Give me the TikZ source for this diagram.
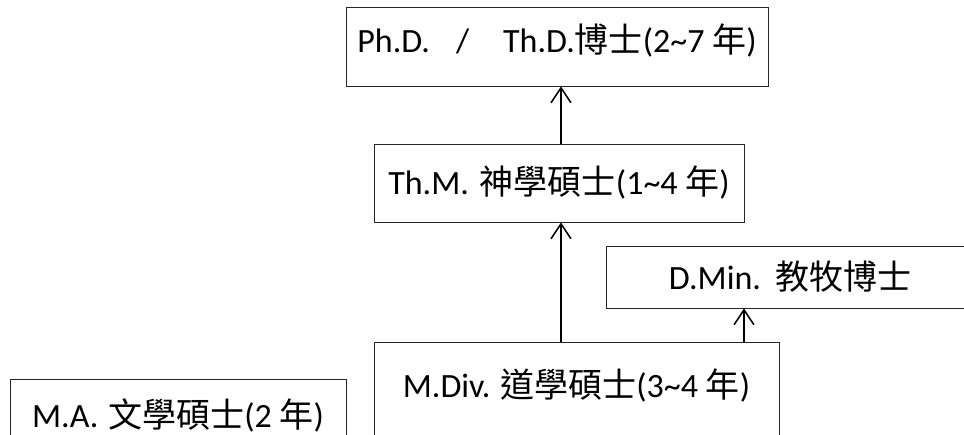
\documentclass[tikz,border=0pt]{standalone}
\usepackage{fontspec}
\setmainfont{Carlito}
\newfontfamily\cjk{Noto Sans CJK TC}
\usetikzlibrary{arrows.meta}
\newcommand{\tld}{\symbol{"7E}}
\begin{document}
\begin{tikzpicture}[x=1pt,y=-1pt,
  box/.style={draw=black!85, line width=0.9pt, inner sep=0pt, text depth=0pt,
    font=\fontsize{34}{40}\selectfont},
  arr/.style={line width=1.5pt, -{Straight Barb[length=15pt,width=20pt,line width=1.5pt]}}]
\useasboundingbox (0,0) rectangle (964,435);
\clip (0,0) rectangle (964,435);
\node[box, minimum width=422pt, minimum height=79pt, text height=13pt] (phd) at (557,46.5)
  {Ph.D.\hspace{26pt}/\hspace{34pt}Th.D.{\cjk 博士}(2\tld 7 {\cjk 年})};
\node[box, minimum width=370pt, minimum height=78pt, text height=24pt] (thm) at (559,183)
  {Th.M.\hspace{11pt}{\cjk 神學碩士}(1\tld 4 {\cjk 年})};
\node[box, minimum width=368pt, minimum height=62pt, text height=26pt] (dmin) at (790,277)
  {D.Min.\hspace{14pt}{\cjk 教牧博士}};
\node[box, minimum width=405pt, minimum height=120pt, text height=0pt, text depth=8pt] (mdiv) at (576.5,402)
  {M.Div.\hspace{10pt}{\cjk 道學碩士}(3\tld 4 {\cjk 年})};
\node[box, minimum width=336pt, minimum height=91pt, text height=6pt] (ma) at (178,424.5)
  {M.A.\hspace{10pt}{\cjk 文學碩士}(2 {\cjk 年})};
\coordinate (c1) at (561,0);
\coordinate (c2) at (744,0);
\draw[arr] (mdiv.north -| c1) -- (thm.south -| c1);
\draw[arr] (thm.north -| c1) -- (phd.south -| c1);
\draw[arr] (mdiv.north -| c2) -- (dmin.south -| c2);
\end{tikzpicture}
\end{document}
